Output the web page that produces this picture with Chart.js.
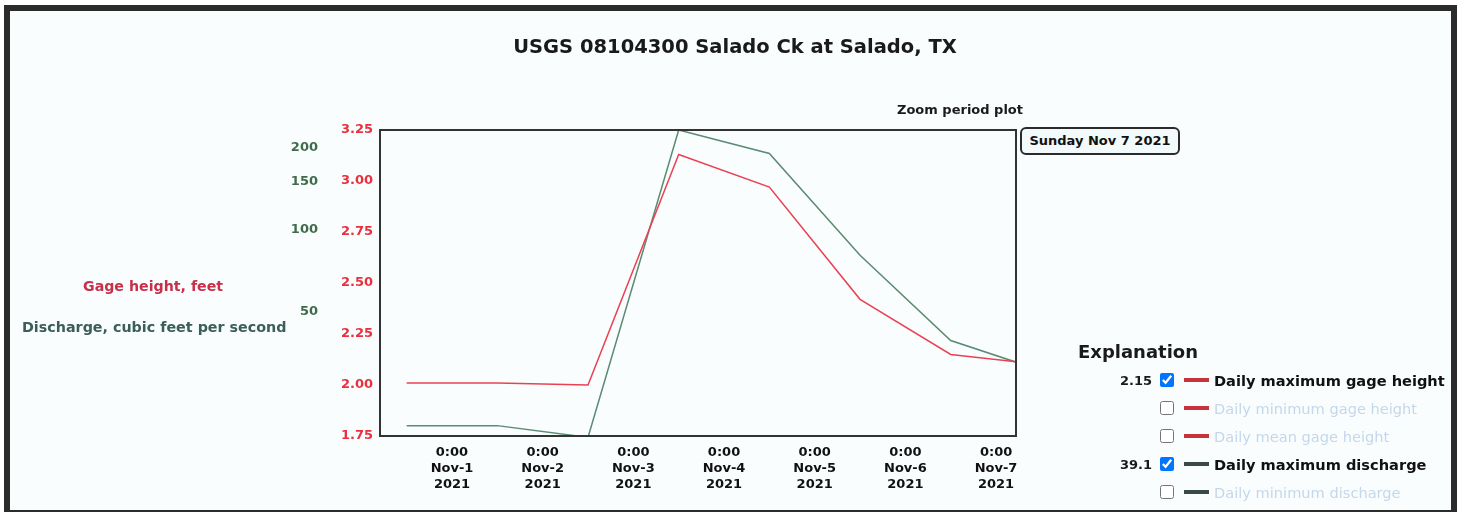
<!DOCTYPE html>
<html>
<head>
<meta charset="utf-8">
<script src="https://cdn.jsdelivr.net/npm/chart.js@4.4.1/dist/chart.umd.min.js"></script>
<style>
  body { margin: 0; background: #fff; font-family: "DejaVu Sans", Verdana, sans-serif; }
  #frame { position: absolute; left: 4px; top: 5px; width: 1453px; height: 509px; box-sizing: border-box;
           border: 6px solid #2b2b2b; border-bottom-width: 4px; background: #f9fdfe; }
  #chart { position: absolute; left: 0; top: 0; z-index: 1; }
  .txt { position: absolute; z-index: 2; font-weight: bold; white-space: nowrap; }
  #title { left: 0; width: 1470px; top: 35px; text-align: center; font-size: 19.5px; color: #1a1a1a; }
  #zoomLbl { left: 897px; top: 102px; font-size: 13px; color: #1a1a1a; }
  #hover { left: 1020px; top: 127px; width: 160px; height: 28px; box-sizing: border-box; border: 2px solid #2b2b2b;
           border-radius: 6px; background: #f2fafc; font-size: 13px; line-height: 24px; text-align: center; color: #111; z-index: 2; position: absolute; font-weight: bold; }
  #gageTitle { left: 83px; top: 278px; font-size: 14.2px; color: #c8304a; }
  #qTitle { left: 22px; top: 319px; font-size: 14.3px; color: #3b5e58; }
  #legend { position: absolute; left: 1078px; top: 340px; z-index: 2; }
  #legend h3 { margin: 0 0 4px 0; font-size: 18px; color: #1a1a1a; height: 24px; line-height: 24px; }
  .row { position: absolute; left: 0; height: 28px; display: flex; align-items: center; white-space: nowrap; font-weight: bold; font-size: 14.6px; }
  .row .val { width: 74px; text-align: right; color: #1a1a1a; font-size: 13px; }
  .row input { margin: 0 0 0 8px; width: 14px; height: 14px; }
  .row .sw { display: inline-block; width: 25px; height: 4px; margin: 0 5px 0 10px; }
  .row .on { color: #111; }
  .row .off { color: #c5d7ea; font-weight: normal; }
</style>
</head>
<body>
<div id="frame"></div>
<canvas id="chart" width="1461" height="512"></canvas>
<div class="txt" id="title">USGS 08104300 Salado Ck at Salado, TX</div>
<div class="txt" id="zoomLbl">Zoom period plot</div>
<div id="hover">Sunday Nov 7 2021</div>
<div class="txt" id="gageTitle">Gage height, feet</div>
<div class="txt" id="qTitle">Discharge, cubic feet per second</div>
<div id="legend">
  <h3>Explanation</h3>
  <div class="row" style="top:26px"><span class="val">2.15</span><input type="checkbox" checked><span class="sw" style="background:#c8323c"></span><span class="on">Daily maximum gage height</span></div>
  <div class="row" style="top:54px"><span class="val"></span><input type="checkbox"><span class="sw" style="background:#c8323c"></span><span class="off">Daily minimum gage height</span></div>
  <div class="row" style="top:82px"><span class="val"></span><input type="checkbox"><span class="sw" style="background:#c8323c"></span><span class="off">Daily mean gage height</span></div>
  <div class="row" style="top:110px"><span class="val">39.1</span><input type="checkbox" checked><span class="sw" style="background:#3a4a44"></span><span class="on">Daily maximum discharge</span></div>
  <div class="row" style="top:138px"><span class="val"></span><input type="checkbox"><span class="sw" style="background:#3a4a44"></span><span class="off">Daily minimum discharge</span></div>
</div>
<script>
// days since Nov 1 2021 0:00, daily values plotted at noon
const dayOffsets = [-0.5, 0.5, 1.5, 2.5, 3.5, 4.5, 5.5, 6.5];
const gageMax = [2.01, 2.01, 2.00, 3.13, 2.97, 2.42, 2.15, 2.10];
const dischargeMax = [19.0, 19.0, 17.2, 233, 191, 80.5, 39.1, 30.3];

const tickDays = [0, 1, 2, 3, 4, 5, 6];
const tickDates = ['Nov-1', 'Nov-2', 'Nov-3', 'Nov-4', 'Nov-5', 'Nov-6', 'Nov-7'];
const tickYear = '2021';
const gageTicks = [1.75, 2.00, 2.25, 2.50, 2.75, 3.00, 3.25];
const dischargeTicks = [50, 100, 150, 200];

const font = { family: '"DejaVu Sans", Verdana, sans-serif', size: 13, weight: 'bold' };

const plotFrame = {
    id: 'plotFrame',
    afterDraw(chart) {
        const a = chart.chartArea;
        const ctx = chart.ctx;
        ctx.save();
        ctx.strokeStyle = '#333';
        ctx.lineWidth = 2;
        ctx.strokeRect(a.left, a.top, a.right - a.left, a.bottom - a.top);
        ctx.restore();
    }
};

const ctx = document.getElementById('chart').getContext('2d');
const myChart = new Chart(ctx, {
    type: 'line',
    data: {
        datasets: [{
            label: 'Daily maximum gage height',
            data: dayOffsets.map((d, i) => ({ x: d, y: gageMax[i] })),
            borderColor: '#ea4152',
            borderWidth: 1.5,
            pointRadius: 0,
            yAxisID: 'yGage'
        }, {
            label: 'Daily maximum discharge',
            data: dayOffsets.map((d, i) => ({ x: d, y: dischargeMax[i] })),
            borderColor: '#5b8a72',
            borderWidth: 1.5,
            pointRadius: 0,
            yAxisID: 'yQ'
        }]
    },
    options: {
        responsive: false,
        animation: false,
        layout: { padding: { left: 262, right: 445, top: 130, bottom: 16 } },
        plugins: { legend: { display: false }, tooltip: { enabled: false } },
        scales: {
            x: {
                type: 'linear',
                min: -0.794,
                max: 6.22,
                grid: { display: false, drawTicks: false },
                border: { display: false },
                afterBuildTicks: (s) => { s.ticks = tickDays.map(v => ({ value: v })); },
                afterFit: (s) => { s.height = 60; },
                ticks: {
                    autoSkip: false,
                    maxRotation: 0,
                    padding: 9,
                    color: '#111',
                    font: { ...font, lineHeight: 1.23 },
                    callback: (v) => ['0:00', tickDates[tickDays.indexOf(v)], tickYear]
                }
            },
            yGage: {
                type: 'linear',
                position: 'left',
                weight: 0,
                min: 1.75,
                max: 3.25,
                grid: { display: false, drawTicks: false },
                border: { display: false },
                afterBuildTicks: (s) => { s.ticks = gageTicks.map(v => ({ value: v })); },
                afterFit: (s) => { s.width = 58; },
                ticks: { padding: 7, color: '#e8303f', font: font, callback: (v) => v.toFixed(2) }
            },
            yQ: {
                type: 'logarithmic',
                position: 'left',
                weight: 1,
                min: 17.4,
                max: 233,
                grid: { display: false, drawTicks: false },
                border: { display: false },
                afterBuildTicks: (s) => { s.ticks = dischargeTicks.map(v => ({ value: v })); },
                afterFit: (s) => { s.width = 60; },
                ticks: { padding: 4, color: '#3f6b4a', font: font, callback: (v) => String(v) }
            }
        }
    },
    plugins: [plotFrame]
});
</script>
</body>
</html>
